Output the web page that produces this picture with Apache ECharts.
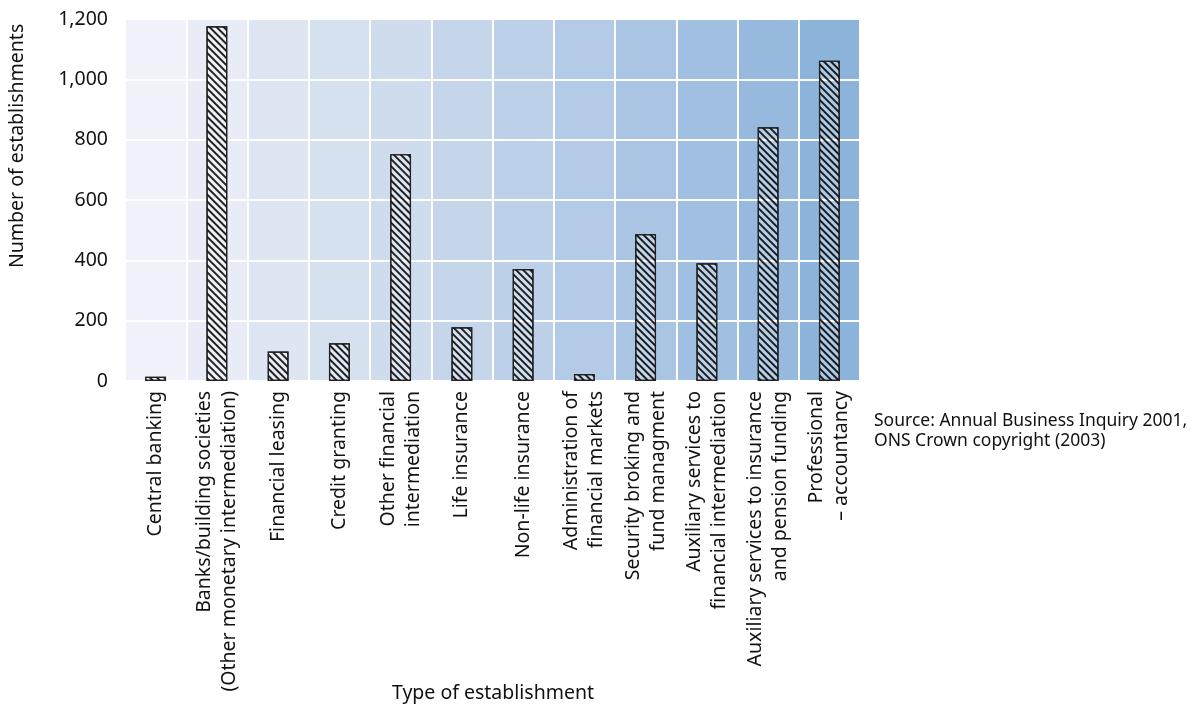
<!DOCTYPE html>
<html>
<head>
<meta charset="utf-8">
<script src="https://cdn.jsdelivr.net/npm/echarts@6/dist/echarts.min.js"></script>
<style>
  html, body { margin: 0; padding: 0; background: #fff; }
  #chart { width: 1203px; height: 705px; }
</style>
</head>
<body>
<div id="chart"></div>
<script>
// Establishment types (line breaks as printed under the axis)
const categories = [
  'Central banking',
  'Banks/building societies\n(Other monetary intermediation)',
  'Financial leasing',
  'Credit granting',
  'Other financial\nintermediation',
  'Life insurance',
  'Non-life insurance',
  'Administration of\nfinancial markets',
  'Security broking and\nfund managment',
  'Auxiliary services to\nfinancial intermediation',
  'Auxiliary services to insurance\nand pension funding',
  'Professional\n– accountancy'
];

// Number of establishments per type
const establishments = [14, 1176, 98, 125, 752, 178, 371, 23, 487, 390, 841, 1062];

// Column shading, light to dark blue, one per category
const columnShades = [
  '#eff3f9', '#e7ecf6', '#dfe6f3', '#d6e1f0', '#cedcee', '#c5d6eb',
  '#bcd1e9', '#b3cbe6', '#aac5e3', '#a1bfe0', '#97b9dd', '#8cb3da'
];

const yTicks = [0, 200, 400, 600, 800, 1000, 1200];

const FONT = 'Noto Sans';

const chart = echarts.init(document.getElementById('chart'), null, { renderer: 'canvas' });

chart.setOption({
  animation: false,
  backgroundColor: '#ffffff',
  textStyle: { fontFamily: FONT },
  grid: { left: 125, right: 343, top: 19, bottom: 324, containLabel: false },
  xAxis: {
    type: 'category',
    data: categories,
    boundaryGap: true,
    z: 0,
    axisLine: { show: false },
    axisTick: { show: false },
    splitArea: { show: true, interval: 0, areaStyle: { color: columnShades, opacity: 1 } },
    splitLine: { show: true, interval: 0, lineStyle: { color: '#ffffff', width: 2 } },
    axisLabel: {
      interval: 0,
      rotate: 90,
      margin: 10,
      color: '#111',
      fontFamily: FONT,
      fontSize: 19.5,
      lineHeight: 25
    }
  },
  yAxis: {
    type: 'value',
    min: yTicks[0],
    max: yTicks[yTicks.length - 1],
    interval: 200,
    z: 1,
    axisLine: { show: false },
    axisTick: { show: false },
    splitLine: { show: true, lineStyle: { color: '#ffffff', width: 2 } },
    axisLabel: {
      margin: 17,
      color: '#111',
      fontFamily: FONT,
      fontSize: 19.5,
      formatter: v => v.toLocaleString('en-GB')
    }
  },
  series: [{
    type: 'bar',
    z: 3,
    data: establishments,
    barWidth: '34%',
    itemStyle: {
      color: 'rgba(255,255,255,0.3)',
      borderColor: '#222',
      borderWidth: 1.2,
      decal: {
        symbol: 'rect',
        symbolSize: 1,
        color: 'rgba(0,0,0,0.85)',
        dashArrayX: [1, 0],
        dashArrayY: [1.1, 2.9],
        rotation: Math.PI / 4
      }
    },
    emphasis: { disabled: true }
  }],
  graphic: [
    {
      type: 'text',
      x: 7,
      y: 268,
      rotation: Math.PI / 2,
      style: {
        text: 'Number of establishments',
        fontFamily: FONT,
        fontSize: 19.5,
        fill: '#111'
      }
    },
    {
      type: 'text',
      style: {
        text: 'Type of establishment',
        x: 493,
        y: 693,
        align: 'center',
        verticalAlign: 'middle',
        fontFamily: FONT,
        fontSize: 19.5,
        fill: '#111'
      }
    },
    {
      type: 'text',
      style: {
        text: 'Source: Annual Business Inquiry 2001,\nONS Crown copyright (2003)',
        x: 874,
        y: 431,
        verticalAlign: 'middle',
        lineHeight: 20,
        fontFamily: FONT,
        fontSize: 17.5,
        fill: '#111'
      }
    }
  ]
});
</script>
</body>
</html>
